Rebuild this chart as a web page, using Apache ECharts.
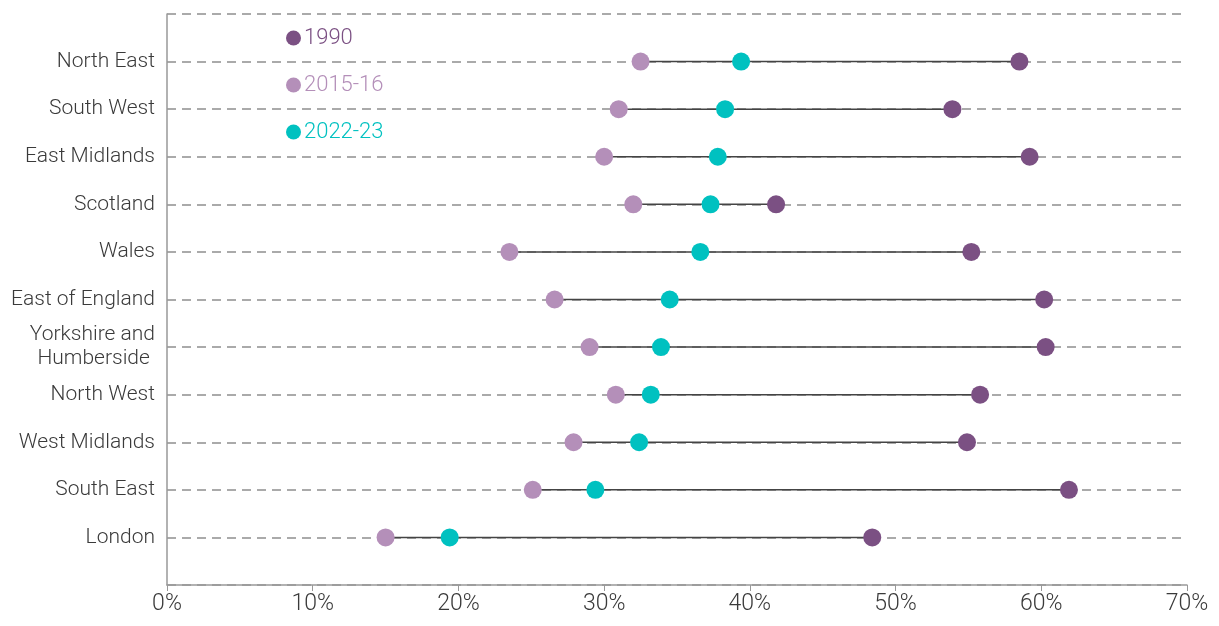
<!DOCTYPE html>
<html>
<head>
<meta charset="utf-8">
<script src="https://cdn.jsdelivr.net/npm/echarts@6/dist/echarts.min.js"></script>
<style>
html,body{margin:0;padding:0;background:#fff;}
#chart{width:1219px;height:626px;}
</style>
</head>
<body>
<div id="chart"></div>
<script>
// Categories top to bottom
const regions = ['North East','South West','East Midlands','Scotland','Wales','East of England','Yorkshire and\nHumberside ','North West','West Midlands','South East','London'];
const v1990 =   [58.5, 53.9, 59.2, 41.8, 55.2, 60.2, 60.3, 55.8, 54.9, 61.9, 48.4];
const v2015 =   [32.5, 31.0, 30.0, 32.0, 23.5, 26.6, 29.0, 30.8, 27.9, 25.1, 15.0];
const v2022 =   [39.4, 38.3, 37.8, 37.3, 36.6, 34.5, 33.9, 33.2, 32.4, 29.4, 19.4];
const xTicks = [0,10,20,30,40,50,60,70];
const seriesNames = ['1990','2015-16','2022-23'];
const colors = ['#7b5083','#b48fb9','#00c1c0'];

const n = regions.length;
const yPos = regions.map((r,i)=> n - i); // North East at top (11), London at 1
const labelMap = {};
regions.forEach((r,i)=>{ labelMap[n-i] = r; });

const rangeData = regions.map((r,i)=>{
  const vals=[v1990[i],v2015[i],v2022[i]];
  return [Math.min(...vals), Math.max(...vals), yPos[i]];
});
const mk = arr => arr.map((v,i)=>[v, yPos[i]]);

const chart = echarts.init(document.getElementById('chart'));
const font = 'Roboto, "Liberation Sans", sans-serif';
chart.setOption({
  animation:false,
  textStyle:{fontFamily:font},
  grid:{left:167, right:32, top:14, bottom:41, containLabel:false},
  legend:{
    orient:'vertical', left:281, top:22, itemGap:25,
    icon:'circle', itemWidth:15, itemHeight:15,
    textStyle:{fontSize:22, fontWeight:300, fontFamily:font, padding:[0,0,0,-2]},
    data: seriesNames.map((s,i)=>({name:s, textStyle:{color:colors[i]}}))
  },
  xAxis:{
    type:'value', min:xTicks[0], max:xTicks[xTicks.length-1], interval:10,
    axisLine:{show:true, lineStyle:{color:'#999', width:1.5}},
    axisTick:{show:true, length:6, lineStyle:{color:'#999'}},
    axisLabel:{formatter:v=>v+'%', color:'#3a3a3a', fontSize:23, fontWeight:300, margin:8, fontFamily:font},
    splitLine:{show:false}
  },
  yAxis:{
    type:'value', min:0, max:12, interval:1,
    axisLine:{show:true, lineStyle:{color:'#999', width:1.5}},
    axisTick:{show:false},
    axisLabel:{formatter:v=>labelMap[v]||'', color:'#3a3a3a', fontSize:21, fontWeight:300, margin:12, lineHeight:24, fontFamily:font},
    splitLine:{show:true, lineStyle:{color:'#aaa', width:2, type:[9,6]}}
  },
  series:[
    {
      type:'custom', name:'range', silent:true, z:2,
      renderItem:(params, api)=>{
        const p1 = api.coord([api.value(0), api.value(2)]);
        const p2 = api.coord([api.value(1), api.value(2)]);
        return {type:'line', shape:{x1:p1[0],y1:p1[1],x2:p2[0],y2:p2[1]}, style:{stroke:'#444', lineWidth:1.5}};
      },
      encode:{x:[0,1], y:2},
      data: rangeData
    },
    {type:'scatter', name:'1990', data:mk(v1990), symbolSize:18, itemStyle:{color:colors[0], opacity:1}, z:3},
    {type:'scatter', name:'2015-16', data:mk(v2015), symbolSize:18, itemStyle:{color:colors[1], opacity:1}, z:3},
    {type:'scatter', name:'2022-23', data:mk(v2022), symbolSize:18, itemStyle:{color:colors[2], opacity:1}, z:3}
  ]
});
</script>
</body>
</html>
